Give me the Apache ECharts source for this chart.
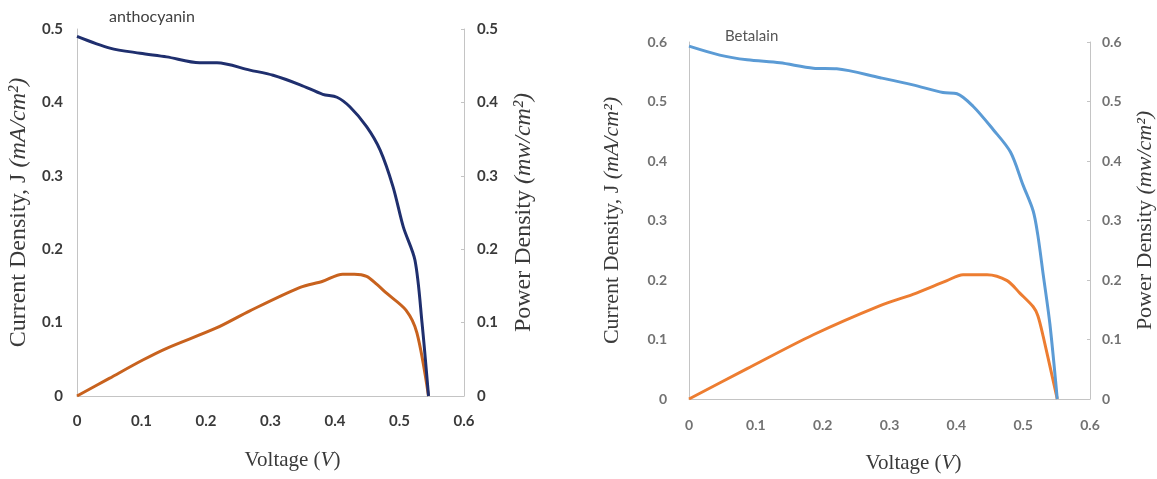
<!DOCTYPE html>
<html>
<head>
<meta charset="utf-8">
<script src="https://cdn.jsdelivr.net/npm/echarts@6/dist/echarts.min.js"></script>
<style>html,body{margin:0;padding:0;background:#fff}#c{width:1157px;height:479px}</style>
</head>
<body>
<div id="c"></div>
<script>
// Anthocyanin panel
const anthoJV = [0, 0.051, 0.098, 0.139, 0.19, 0.217, 0.268, 0.304, 0.346, 0.381, 0.403, 0.423, 0.449, 0.470, 0.490, 0.506, 0.524, 0.535, 0.545];
const anthoJ  = [0.490, 0.474, 0.467, 0.462, 0.454, 0.454, 0.444, 0.437, 0.424, 0.411, 0.407, 0.394, 0.367, 0.335, 0.285, 0.230, 0.185, 0.099, 0];
const anthoPV = [0, 0.05, 0.102, 0.139, 0.217, 0.268, 0.346, 0.38, 0.412, 0.43, 0.449, 0.465, 0.48, 0.51, 0.527, 0.545];
const anthoP  = [0, 0.024, 0.049, 0.065, 0.093, 0.116, 0.148, 0.156, 0.166, 0.166, 0.163, 0.152, 0.140, 0.117, 0.086, 0];
// Betalain panel
const betaJV = [0, 0.046, 0.087, 0.136, 0.186, 0.221, 0.286, 0.335, 0.380, 0.401, 0.425, 0.455, 0.481, 0.50, 0.515, 0.522, 0.530, 0.540, 0.551];
const betaJ  = [0.593, 0.578, 0.570, 0.565, 0.556, 0.555, 0.540, 0.528, 0.515, 0.513, 0.492, 0.453, 0.415, 0.359, 0.316, 0.275, 0.209, 0.126, 0];
const betaPV = [0, 0.087, 0.186, 0.286, 0.335, 0.386, 0.41, 0.446, 0.476, 0.495, 0.515, 0.522, 0.530, 0.551];
const betaP  = [0, 0.051, 0.108, 0.157, 0.176, 0.199, 0.209, 0.209, 0.199, 0.178, 0.155, 0.140, 0.105, 0];

const xTitle = ['Voltage ', 'V'];
const jTitle = 'Current Density, J ';
const jUnit = '(mA/cm²)';
const pTitle = 'Power Density ';
const pUnit = '(mw/cm²)';
const panelNames = ['anthocyanin', 'Betalain'];

const pairs = (xs, ys) => xs.map((x, i) => [x, ys[i]]);
const fmt = v => v === 0 ? '0' : v.toFixed(1);
const axisLine = {show: true, lineStyle: {color: '#c4c4c4', width: 1}};
const serif = 'Liberation Serif';
const titleColor = '#3a3a3a';

function yName(main, unit, size) {
  return {
    name: '{n|' + main + '}{i|' + unit + '}',
    nameLocation: 'middle',
    nameTextStyle: {
      rich: {
        n: {fontFamily: serif, fontSize: size, color: titleColor},
        i: {fontFamily: serif, fontSize: size, fontStyle: 'italic', color: titleColor}
      }
    }
  };
}
function xName(size, shift) {
  return {
    name: '{n|' + xTitle[0] + '(}{i|' + xTitle[1] + '}{n|)}',
    nameLocation: 'middle', nameGap: 54,
    nameTextStyle: {
      padding: [0, 0, 0, shift],
      rich: {
        n: {fontFamily: serif, fontSize: size, color: titleColor},
        i: {fontFamily: serif, fontSize: size, fontStyle: 'italic', color: titleColor}
      }
    }
  };
}

const chart = echarts.init(document.getElementById('c'));
chart.setOption({
  animation: false,
  grid: [
    {left: 77, right: 693, top: 29, bottom: 83},
    {left: 689, right: 67, top: 42, bottom: 76}
  ],
  graphic: [
    {type: 'text', left: 109, top: 9, style: {text: panelNames[0], font: '16px Lato', fill: '#404040'}},
    {type: 'text', left: 725, top: 29, style: {text: panelNames[1], font: '15px Lato', fill: '#555555'}}
  ],
  xAxis: [
    Object.assign({type: 'value', gridIndex: 0, min: 0, max: 0.6, interval: 0.1,
     axisLine: axisLine, axisTick: {show: false}, splitLine: {show: false},
     axisLabel: {formatter: fmt, margin: 18, fontFamily: 'Lato', fontWeight: 'bold', fontSize: 15, color: '#3a3a3a'}},
     xName(21, 44)),
    Object.assign({type: 'value', gridIndex: 1, min: 0, max: 0.6, interval: 0.1,
     axisLine: axisLine, axisTick: {show: false}, splitLine: {show: false},
     axisLabel: {formatter: fmt, margin: 19, fontFamily: 'Lato', fontWeight: 'bold', fontSize: 14, color: '#727272'}},
     xName(21, 48))
  ],
  yAxis: [
    Object.assign({type: 'value', gridIndex: 0, min: 0, max: 0.5, interval: 0.1, position: 'left',
     axisLine: axisLine, axisTick: {show: false}, splitLine: {show: false},
     axisLabel: {formatter: fmt, margin: 14, fontFamily: 'Lato', fontWeight: 'bold', fontSize: 15, color: '#3a3a3a'},
     nameGap: 46, nameRotate: 90}, yName(jTitle, jUnit, 24)),
    Object.assign({type: 'value', gridIndex: 0, min: 0, max: 0.5, interval: 0.1, position: 'right',
     axisLine: axisLine, axisTick: {show: true, inside: true, length: 3, lineStyle: {color: '#c4c4c4'}}, splitLine: {show: false},
     axisLabel: {formatter: fmt, margin: 13, fontFamily: 'Lato', fontWeight: 'bold', fontSize: 15, color: '#3a3a3a'},
     nameGap: 48, nameRotate: 90}, yName(pTitle, pUnit, 24)),
    Object.assign({type: 'value', gridIndex: 1, min: 0, max: 0.6, interval: 0.1, position: 'left',
     axisLine: axisLine, axisTick: {show: false}, splitLine: {show: false},
     axisLabel: {formatter: fmt, margin: 22, fontFamily: 'Lato', fontWeight: 'bold', fontSize: 14, color: '#727272'},
     nameGap: 66, nameRotate: 90}, yName(jTitle, jUnit, 22)),
    Object.assign({type: 'value', gridIndex: 1, min: 0, max: 0.6, interval: 0.1, position: 'right',
     axisLine: axisLine, axisTick: {show: true, inside: true, length: 3, lineStyle: {color: '#c4c4c4'}}, splitLine: {show: false},
     axisLabel: {formatter: fmt, margin: 12, fontFamily: 'Lato', fontWeight: 'bold', fontSize: 14, color: '#727272'},
     nameGap: 44, nameRotate: 90}, yName(pTitle, pUnit, 22))
  ],
  series: [
    {type: 'line', xAxisIndex: 0, yAxisIndex: 0, data: pairs(anthoJV, anthoJ), smooth: 0.3, showSymbol: false,
     lineStyle: {color: '#1f2f6e', width: 3}, z: 3},
    {type: 'line', xAxisIndex: 0, yAxisIndex: 1, data: pairs(anthoPV, anthoP), smooth: 0.3, showSymbol: false,
     lineStyle: {color: '#c8621e', width: 3}, z: 2},
    {type: 'line', xAxisIndex: 1, yAxisIndex: 2, data: pairs(betaJV, betaJ), smooth: 0.3, showSymbol: false,
     lineStyle: {color: '#5b9bd5', width: 3}, z: 3},
    {type: 'line', xAxisIndex: 1, yAxisIndex: 3, data: pairs(betaPV, betaP), smooth: 0.3, showSymbol: false,
     lineStyle: {color: '#ed7d31', width: 3}, z: 2}
  ]
});
</script>
</body>
</html>
